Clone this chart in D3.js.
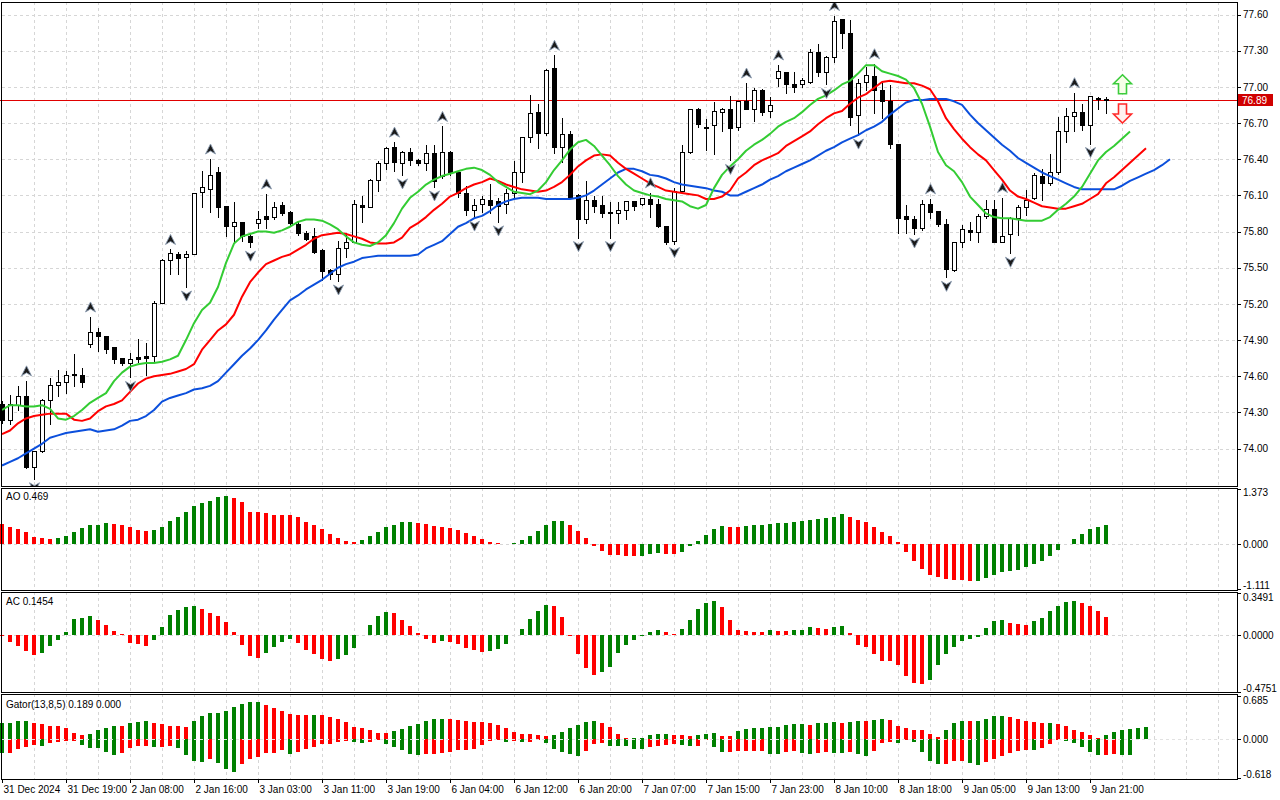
<!DOCTYPE html>
<html>
<head>
<meta charset="utf-8">
<script src="https://cdn.jsdelivr.net/npm/d3@7"></script>
<style>
  html, body { margin: 0; padding: 0; background: #fff; }
  svg { display: block; font-family: "Liberation Sans", Arial, sans-serif; }
  .grid line { stroke: #d6d6d6; stroke-dasharray: 3,3; shape-rendering: crispEdges; }
  .axis text { font-size: 10px; fill: #000; }
  .axis line { stroke: #000; shape-rendering: crispEdges; }
  .axis path { display: none; }
  .frame { fill: none; stroke: #000; shape-rendering: crispEdges; }
  .label { font-size: 10px; fill: #000; }
</style>
</head>
<body>
<svg id="chart" width="1280" height="800"></svg>
<script>
// H1 bars, 31 Dec 2024 .. 9 Jan 2025
const open = [74.37,74.24,74.36,74.44,73.85,73.98,74.40,74.53,74.55,74.61,
  74.61,74.87,74.97,74.93,74.84,74.75,74.71,74.76,74.77,74.77,
  75.21,75.56,75.61,75.59,75.61,76.13,76.15,76.29,76.01,75.85,
  75.88,75.76,75.87,75.93,75.92,76.02,75.96,75.86,75.79,75.76,
  75.65,75.48,75.45,75.66,75.71,76.02,76.00,76.23,76.37,76.50,
  76.37,76.46,76.39,76.37,76.45,76.26,76.46,76.29,76.12,75.98,
  76.03,76.06,76.05,76.03,76.12,76.29,76.58,76.79,76.62,77.16,
  76.50,76.61,76.10,75.90,76.06,76.02,75.96,75.95,75.98,76.05,
  76.03,76.07,76.03,75.85,75.72,76.14,76.46,76.82,76.67,76.68,
  76.79,76.82,76.67,76.88,76.82,76.97,76.80,77.07,77.12,77.02,
  77.02,77.04,77.29,77.12,77.25,77.56,77.45,76.77,77.04,77.09,
  76.97,76.88,76.53,75.93,75.90,75.83,76.03,75.97,75.86,75.48,
  75.71,75.81,75.80,75.93,75.99,75.71,75.78,75.91,76.00,76.08,
  76.26,76.20,76.29,76.63,76.76,76.79,76.68,76.91,76.90];
const high = [74.40,74.45,74.53,74.57,73.98,74.42,74.59,74.66,74.65,74.79,
  74.68,75.10,75.01,74.94,74.84,74.76,74.80,74.92,74.88,75.23,
  75.58,75.66,75.64,75.65,76.13,76.31,76.41,76.34,76.01,76.05,
  75.88,75.79,75.98,76.12,76.05,76.05,75.98,75.89,75.81,75.84,
  75.66,75.50,75.73,75.80,76.07,76.10,76.24,76.39,76.51,76.55,
  76.48,76.50,76.41,76.53,76.53,76.68,76.48,76.31,76.19,76.08,
  76.10,76.20,76.09,76.16,76.39,76.58,76.94,76.87,77.16,77.27,
  76.75,76.64,76.12,76.23,76.10,76.10,76.05,76.05,76.06,76.06,
  76.09,76.13,76.08,75.85,76.17,76.53,76.82,76.83,76.74,76.88,
  76.83,76.93,76.89,77.04,77.00,76.99,76.92,77.19,77.13,77.13,
  77.08,77.32,77.36,77.26,77.60,77.57,77.56,77.07,77.17,77.20,
  77.04,77.02,76.53,76.03,75.94,76.07,76.08,75.98,75.91,75.71,
  75.86,75.89,75.95,76.07,76.07,76.09,75.93,76.03,76.15,76.29,
  76.33,76.45,76.76,76.83,76.96,76.87,76.92,76.92,76.92];
const low = [74.21,74.20,74.32,73.84,73.75,73.97,74.20,74.44,74.46,74.52,
  74.51,74.84,74.81,74.79,74.71,74.69,74.59,74.72,74.61,74.73,
  75.21,75.45,75.45,75.34,75.61,76.00,75.96,75.92,75.76,75.71,
  75.72,75.67,75.83,75.83,75.90,75.94,75.85,75.77,75.73,75.62,
  75.40,75.41,75.39,75.59,75.71,75.88,76.00,76.14,76.32,76.30,
  76.27,76.35,76.35,76.31,76.17,76.24,76.27,76.09,75.94,75.92,
  75.96,75.95,75.88,75.95,76.09,76.21,76.54,76.49,76.60,76.45,
  76.38,76.09,75.75,75.87,75.96,75.92,75.75,75.87,75.90,75.98,
  76.02,75.92,75.84,75.70,75.70,76.14,76.45,76.67,76.48,76.44,
  76.63,76.39,76.64,76.82,76.72,76.77,76.75,77.01,76.95,76.96,
  77.00,77.03,77.09,77.02,77.21,77.32,76.68,76.60,76.97,76.78,
  76.74,76.49,75.79,75.79,75.78,75.81,75.91,75.85,75.42,75.47,
  75.67,75.73,75.71,75.91,75.71,75.71,75.62,75.77,75.94,76.07,
  76.06,76.19,76.28,76.54,76.63,76.64,76.53,76.82,76.78];
const close = [74.24,74.37,74.44,73.85,73.98,74.40,74.53,74.55,74.61,74.62,
  74.55,74.97,74.93,74.83,74.74,74.71,74.74,74.74,74.75,75.21,
  75.56,75.62,75.58,75.61,76.12,76.17,76.27,76.00,75.85,75.88,
  75.76,75.71,75.90,75.90,76.00,75.95,75.87,75.79,75.74,75.63,
  75.47,75.45,75.66,75.71,76.03,76.00,76.23,76.37,76.49,76.38,
  76.46,76.39,76.37,76.45,76.22,76.46,76.29,76.12,75.98,76.02,
  76.07,76.02,76.01,76.12,76.29,76.58,76.78,76.62,77.14,76.50,
  76.61,76.09,75.90,76.06,76.01,75.95,75.95,75.98,76.05,76.01,
  76.08,76.03,75.85,75.71,76.14,76.46,76.82,76.69,76.66,76.80,
  76.82,76.66,76.88,76.82,76.97,76.79,76.85,77.13,77.02,77.00,
  77.06,77.29,77.12,77.25,77.55,77.45,76.75,77.03,77.10,76.97,
  76.88,76.53,75.91,75.90,75.83,76.03,75.96,75.86,75.49,75.71,
  75.82,75.80,75.93,75.99,75.71,75.76,75.91,76.00,76.06,76.27,
  76.20,76.29,76.63,76.76,76.79,76.68,76.92,76.90,76.89];

// fractal bars
const fractalUp = [3,11,21,26,33,49,55,69,81,93,97,104,109,116,125,134];
const fractalDown = [4,16,23,31,42,50,54,59,62,72,76,84,91,103,107,114,118,126,136];

// alligator lines (already shifted forward, one value per bar slot)
const lips = [74.32,74.36,74.36,74.35,74.35,74.36,74.33,74.25,74.24,74.27,
  74.32,74.38,74.42,74.46,74.56,74.63,74.68,74.70,74.71,74.71,
  74.72,74.74,74.77,74.90,75.04,75.15,75.21,75.34,75.54,75.70,
  75.76,75.78,75.80,75.80,75.79,75.81,75.84,75.88,75.90,75.90,
  75.89,75.86,75.82,75.76,75.71,75.69,75.68,75.71,75.77,75.87,
  75.99,76.08,76.13,76.19,76.23,76.26,76.28,76.30,76.32,76.33,
  76.31,76.27,76.21,76.17,76.13,76.12,76.11,76.14,76.21,76.31,
  76.39,76.48,76.54,76.56,76.51,76.43,76.35,76.26,76.19,76.14,
  76.12,76.10,76.09,76.07,76.06,76.05,76.01,75.99,76.02,76.16,
  76.27,76.34,76.40,76.47,76.52,76.56,76.61,76.67,76.71,76.74,
  76.79,76.85,76.90,76.93,76.97,77.02,77.05,77.11,77.18,77.18,
  77.13,77.11,77.09,77.06,76.99,76.86,76.67,76.46,76.35,76.30,
  76.21,76.09,76.02,75.95,75.92,75.91,75.91,75.90,75.89,75.89,
  75.89,75.92,75.98,76.03,76.09,76.17,76.28,76.39,76.46,76.51,
  76.57,76.63];
const teeth = [74.12,74.15,74.21,74.25,74.27,74.28,74.29,74.29,74.29,74.24,
  74.23,74.25,74.31,74.35,74.37,74.40,74.47,74.54,74.58,74.60,
  74.61,74.62,74.64,74.66,74.70,74.82,74.90,74.98,75.03,75.11,
  75.26,75.38,75.46,75.53,75.56,75.59,75.61,75.65,75.69,75.74,
  75.77,75.78,75.79,75.78,75.76,75.74,75.71,75.70,75.70,75.71,
  75.75,75.83,75.87,75.92,75.98,76.03,76.09,76.12,76.16,76.19,
  76.21,76.24,76.22,76.19,76.17,76.15,76.14,76.13,76.14,76.17,
  76.21,76.27,76.34,76.39,76.43,76.44,76.43,76.37,76.32,76.28,
  76.24,76.20,76.17,76.14,76.13,76.12,76.11,76.10,76.07,76.07,
  76.09,76.14,76.24,76.29,76.35,76.39,76.42,76.45,76.51,76.55,
  76.59,76.63,76.69,76.74,76.78,76.80,76.86,76.91,76.94,76.99,
  77.04,77.05,77.04,77.03,77.03,77.01,76.98,76.88,76.74,76.65,
  76.57,76.50,76.44,76.39,76.31,76.23,76.14,76.09,76.07,76.04,
  76.01,76.00,75.99,75.99,76.01,76.03,76.07,76.11,76.20,76.25,
  76.31,76.37,76.43,76.49];
const jaw = [73.86,73.89,73.92,73.96,74.00,74.04,74.09,74.11,74.13,74.14,
  74.15,74.16,74.14,74.15,74.16,74.19,74.23,74.24,74.27,74.32,
  74.39,74.42,74.44,74.46,74.49,74.50,74.52,74.56,74.63,74.70,
  74.77,74.83,74.90,74.98,75.07,75.15,75.23,75.27,75.32,75.36,
  75.40,75.45,75.50,75.53,75.55,75.58,75.59,75.60,75.60,75.60,
  75.60,75.60,75.61,75.66,75.69,75.72,75.78,75.84,75.87,75.91,
  75.93,75.97,76.02,76.05,76.07,76.08,76.08,76.08,76.07,76.07,
  76.07,76.07,76.08,76.10,76.14,76.19,76.24,76.29,76.32,76.32,
  76.30,76.27,76.26,76.24,76.21,76.19,76.18,76.17,76.16,76.14,
  76.13,76.10,76.10,76.13,76.16,76.19,76.23,76.26,76.30,76.33,
  76.36,76.39,76.43,76.47,76.50,76.54,76.57,76.60,76.64,76.67,
  76.71,76.77,76.82,76.87,76.89,76.89,76.90,76.90,76.90,76.88,
  76.85,76.77,76.70,76.64,76.58,76.52,76.47,76.41,76.37,76.33,
  76.29,76.26,76.23,76.20,76.17,76.15,76.15,76.15,76.15,76.15,
  76.18,76.22,76.25,76.28,76.31,76.35,76.40];

// Awesome Oscillator
const ao = [0.50,0.43,0.38,0.31,0.18,0.14,0.135,0.15,0.19,0.31,
  0.39,0.46,0.48,0.51,0.50,0.48,0.41,0.35,0.33,0.34,
  0.43,0.58,0.68,0.78,0.93,1.01,1.07,1.16,1.19,1.13,
  1.03,0.80,0.78,0.76,0.73,0.72,0.71,0.66,0.55,0.46,
  0.36,0.24,0.14,0.08,0.06,0.11,0.21,0.31,0.43,0.48,
  0.54,0.55,0.52,0.49,0.44,0.42,0.40,0.35,0.28,0.20,
  0.13,0.05,0.02,0.01,0.03,0.10,0.20,0.32,0.47,0.57,
  0.58,0.47,0.32,0.15,-0.04,-0.17,-0.27,-0.28,-0.29,-0.30,
  -0.29,-0.24,-0.23,-0.24,-0.25,-0.19,-0.06,0.07,0.22,0.37,
  0.44,0.42,0.41,0.44,0.47,0.48,0.49,0.52,0.53,0.54,
  0.58,0.60,0.63,0.64,0.68,0.74,0.68,0.59,0.54,0.43,
  0.29,0.19,0.04,-0.20,-0.43,-0.62,-0.77,-0.82,-0.87,-0.89,
  -0.90,-0.91,-0.905,-0.84,-0.76,-0.70,-0.67,-0.63,-0.57,-0.50,
  -0.43,-0.30,-0.15,0.01,0.12,0.24,0.37,0.43,0.469];

// Accelerator Oscillator
const ac = [-0.01,-0.056,-0.09,-0.13,-0.17,-0.15,-0.09,-0.04,0.025,0.13,
  0.14,0.16,0.126,0.084,0.034,0.005,-0.064,-0.078,-0.09,-0.04,
  0.067,0.168,0.21,0.23,0.238,0.219,0.185,0.16,0.11,0.025,
  -0.081,-0.174,-0.19,-0.149,-0.098,-0.056,-0.03,-0.064,-0.123,-0.157,
  -0.2,-0.216,-0.2,-0.165,-0.107,0.002,0.084,0.16,0.193,0.185,
  0.126,0.076,0.02,-0.031,-0.064,-0.048,-0.059,-0.073,-0.109,-0.126,
  -0.14,-0.132,-0.118,-0.073,0.003,0.05,0.135,0.196,0.247,0.245,
  0.151,-0.006,-0.157,-0.275,-0.334,-0.308,-0.266,-0.149,-0.081,-0.039,
  -0.006,0.025,0.042,0.025,0.008,0.05,0.126,0.219,0.269,0.286,
  0.235,0.126,0.042,0.034,0.025,0.024,0.042,0.034,0.033,0.042,
  0.043,0.067,0.059,0.05,0.067,0.076,0.017,-0.084,-0.101,-0.16,
  -0.219,-0.22,-0.252,-0.345,-0.401,-0.412,-0.378,-0.252,-0.16,-0.101,
  -0.05,-0.034,-0.017,0.059,0.118,0.126,0.101,0.093,0.084,0.118,
  0.143,0.202,0.244,0.278,0.279,0.269,0.244,0.202,0.1454];

// Gator oscillator, upper and lower histograms
const gatorUp = [0.25,0.254,0.29,0.291,0.254,0.238,0.207,0.206,0.175,0.095,
  0.064,0.08,0.143,0.175,0.207,0.206,0.254,0.27,0.286,0.254,
  0.238,0.207,0.206,0.19,0.286,0.365,0.413,0.414,0.445,0.508,
  0.556,0.588,0.593,0.535,0.493,0.445,0.397,0.381,0.380,0.382,
  0.381,0.35,0.318,0.27,0.19,0.175,0.143,0.095,0.094,0.127,
  0.159,0.207,0.238,0.286,0.318,0.319,0.317,0.302,0.286,0.27,
  0.269,0.254,0.222,0.175,0.111,0.079,0.078,0.064,0.048,0.064,
  0.111,0.175,0.222,0.27,0.286,0.254,0.191,0.079,0.016,0.017,
  0.018,0.064,0.079,0.080,0.064,0.063,0.048,0.064,0.079,0.095,
  0.048,0.047,0.127,0.159,0.175,0.176,0.191,0.192,0.222,0.238,
  0.239,0.222,0.254,0.255,0.27,0.254,0.27,0.286,0.285,0.302,
  0.318,0.302,0.207,0.175,0.143,0.142,0.079,0.032,0.143,0.254,
  0.286,0.285,0.287,0.318,0.365,0.366,0.35,0.318,0.286,0.27,
  0.254,0.255,0.238,0.207,0.143,0.111,0.064,0.016,0.064,0.111,
  0.143,0.159,0.175,0.189];
const gatorDown = [-0.217,-0.216,-0.164,-0.122,-0.090,-0.106,-0.064,-0.042,-0.026,-0.025,
  -0.090,-0.138,-0.139,-0.201,-0.249,-0.217,-0.138,-0.106,-0.105,-0.122,
  -0.121,-0.106,-0.138,-0.249,-0.344,-0.360,-0.323,-0.376,-0.482,-0.519,
  -0.397,-0.323,-0.281,-0.217,-0.216,-0.175,-0.233,-0.201,-0.164,-0.122,
  -0.080,-0.074,-0.048,-0.037,-0.042,-0.058,-0.042,-0.010,-0.074,-0.122,
  -0.169,-0.233,-0.249,-0.233,-0.232,-0.217,-0.201,-0.169,-0.168,-0.154,
  -0.090,-0.026,-0.011,-0.042,-0.026,-0.042,-0.041,-0.011,-0.058,-0.154,
  -0.201,-0.233,-0.265,-0.185,-0.074,-0.058,-0.106,-0.107,-0.108,-0.154,
  -0.155,-0.122,-0.106,-0.090,-0.074,-0.090,-0.106,-0.105,-0.016,-0.122,
  -0.201,-0.200,-0.185,-0.184,-0.183,-0.182,-0.233,-0.234,-0.201,-0.185,
  -0.217,-0.233,-0.217,-0.201,-0.217,-0.218,-0.201,-0.233,-0.265,-0.185,
  -0.058,-0.042,-0.058,-0.011,-0.042,-0.201,-0.344,-0.392,-0.391,-0.344,
  -0.343,-0.376,-0.408,-0.360,-0.312,-0.265,-0.217,-0.185,-0.169,-0.170,
  -0.138,-0.074,-0.011,-0.026,-0.058,-0.122,-0.201,-0.249,-0.248,-0.233,
  -0.249,-0.250,0,0];

// axis labels
const priceTicks = [77.60,77.30,77.00,76.70,76.40,76.10,75.80,75.50,75.20,74.90,74.60,74.30,74.00];
const aoTicks = [1.373, 0, -1.111];
const acTicks = [0.3491, 0, -0.4751];
const gatorTicks = [0.685, 0, -0.618];
const timeLabels = ["31 Dec 2024","31 Dec 19:00","2 Jan 08:00","2 Jan 16:00","3 Jan 03:00",
  "3 Jan 11:00","3 Jan 19:00","6 Jan 04:00","6 Jan 12:00","6 Jan 20:00","7 Jan 07:00",
  "7 Jan 15:00","7 Jan 23:00","8 Jan 10:00","8 Jan 18:00","9 Jan 05:00","9 Jan 13:00","9 Jan 21:00"];
const timeLabelBars = [0,8,16,24,32,40,48,56,64,72,80,88,96,104,112,120,128,136];

// signal arrows at the right end (bar slot, tip price)
const signalBars = [140, 140];
const signalPrices = [77.10, 76.70];

const GREEN = "#008000", RED = "#ff0000";
const svg = d3.select("#chart");
const right = 1237;

const panels = {
  main:  { top: 2,   bottom: 486 },
  ao:    { top: 488, bottom: 590 },
  ac:    { top: 592, bottom: 692 },
  gator: { top: 694, bottom: 779 }
};

// 8 px per bar
const x = d3.scaleLinear().domain([0, 138]).range([2, 1106]);
const yMain = d3.scaleLinear().domain([74.00, 77.60]).range([448.6, 14.5]);
const yAO = d3.scaleLinear().domain([-1.111, 1.373]).range([589, 488.5]);
const yAC = d3.scaleLinear().domain([-0.4751, 0.3491]).range([692, 593]);
const yGator = d3.scaleLinear().domain([-0.618, 0.685]).range([778, 696]);

const defs = svg.append("defs");
Object.entries(panels).forEach(([k, p]) => {
  defs.append("clipPath").attr("id", "clip-" + k)
    .append("rect").attr("x", 0).attr("y", p.top).attr("width", right).attr("height", p.bottom - p.top);
});

// grid
const grid = svg.append("g").attr("class", "grid");
const gridBars = d3.range(4, 154, 4);
Object.values(panels).forEach(p => {
  grid.selectAll(null).data(gridBars).join("line")
    .attr("x1", d => x(d)).attr("x2", d => x(d))
    .attr("y1", p.top).attr("y2", p.bottom);
});
grid.selectAll(null).data(priceTicks).join("line")
  .attr("x1", 2).attr("x2", right)
  .attr("y1", d => Math.round(yMain(d))).attr("y2", d => Math.round(yMain(d)));
[[yAO, "ao"], [yAC, "ac"]].forEach(([y]) => {
  grid.append("line").attr("x1", 2).attr("x2", right)
    .attr("y1", Math.round(y(0))).attr("y2", Math.round(y(0)));
});

// ---------- main panel ----------
const gMain = svg.append("g").attr("clip-path", "url(#clip-main)");

const lastClose = close[close.length - 1];
gMain.append("line")
  .attr("x1", 0).attr("x2", right)
  .attr("y1", Math.round(yMain(lastClose)) + 0.5).attr("y2", Math.round(yMain(lastClose)) + 0.5)
  .attr("stroke", "#e00000").attr("stroke-width", 1);

const candles = open.map((o, i) => ({ i, o, h: high[i], l: low[i], c: close[i] }));
const px = v => Math.round(yMain(v)) + 0.5;

gMain.append("g").selectAll("line").data(candles).join("line")
  .attr("x1", d => x(d.i) + 0.5).attr("x2", d => x(d.i) + 0.5)
  .attr("y1", d => px(d.h)).attr("y2", d => px(d.l))
  .attr("stroke", "#000").attr("shape-rendering", "crispEdges");

gMain.append("g").selectAll("rect").data(candles.filter(d => px(d.o) !== px(d.c))).join("rect")
  .attr("x", d => x(d.i) - 1.5).attr("width", 4)
  .attr("y", d => px(Math.max(d.o, d.c)))
  .attr("height", d => Math.abs(px(d.o) - px(d.c)))
  .attr("fill", d => d.c >= d.o ? "#fff" : "#000")
  .attr("stroke", "#000").attr("shape-rendering", "crispEdges");

gMain.append("g").selectAll("line").data(candles.filter(d => px(d.o) === px(d.c))).join("line")
  .attr("x1", d => x(d.i) - 2).attr("x2", d => x(d.i) + 3)
  .attr("y1", d => px(d.c)).attr("y2", d => px(d.c))
  .attr("stroke", "#000").attr("shape-rendering", "crispEdges");

// alligator
const lineGen = d3.line().x((d, i) => x(i)).y(d => yMain(d));
[[jaw, "#0b4fdc"], [teeth, "#ff0000"], [lips, "#33cc33"]].forEach(([arr, col]) => {
  gMain.append("path").datum(arr).attr("d", lineGen)
    .attr("fill", "none").attr("stroke", col).attr("stroke-width", 2)
    .attr("stroke-linejoin", "round");
});

// fractals
const upShape = "M0,-5 L5,5 L0,2 L-5,5 Z";
const downShape = "M0,5 L5,-5 L0,-2 L-5,-5 Z";
gMain.append("g").selectAll("path").data(fractalUp).join("path")
  .attr("d", upShape)
  .attr("transform", d => `translate(${x(d) + 0.5},${yMain(high[d]) - 9})`)
  .attr("fill", "#1a1a1a").attr("stroke", "#8a9bb0").attr("stroke-width", 0.9);
gMain.append("g").selectAll("path").data(fractalDown).join("path")
  .attr("d", downShape)
  .attr("transform", d => `translate(${x(d) + 0.5},${yMain(low[d]) + 9})`)
  .attr("fill", "#1a1a1a").attr("stroke", "#8a9bb0").attr("stroke-width", 0.9);

// signal arrows
const arrowUp = "M0,0 L9,9 L4,9 L4,19 L-4,19 L-4,9 L-9,9 Z";
const arrowDown = "M0,0 L9,-9 L4,-9 L4,-19 L-4,-19 L-4,-9 L-9,-9 Z";
gMain.append("path").attr("d", arrowUp)
  .attr("transform", `translate(${x(signalBars[0]) + 0.5},${yMain(signalPrices[0])})`)
  .attr("fill", "#f6ffe8").attr("stroke", "#3ccc3c").attr("stroke-width", 1.6);
gMain.append("path").attr("d", arrowDown)
  .attr("transform", `translate(${x(signalBars[1]) + 0.5},${yMain(signalPrices[1])})`)
  .attr("fill", "#fff2f0").attr("stroke", "#ff2a2a").attr("stroke-width", 1.6);

// ---------- histograms ----------
function histogram(name, data, y, colorOf) {
  const g = svg.append("g").attr("clip-path", `url(#clip-${name})`);
  const z = Math.round(y(0));
  g.selectAll("rect").data(data).join("rect")
    .attr("x", (d, i) => x(i) - 2).attr("width", 4)
    .attr("y", d => Math.min(Math.round(y(d)), z))
    .attr("height", d => Math.abs(Math.round(y(d)) - z))
    .attr("fill", colorOf)
    .attr("shape-rendering", "crispEdges");
  return g;
}
const risingColor = arr => (d, i) => (i > 0 && d > arr[i - 1]) ? GREEN : RED;
histogram("ao", ao, yAO, risingColor(ao));
histogram("ac", ac, yAC, risingColor(ac));
const gGator = histogram("gator", gatorUp, yGator,
  (d, i) => (i === 0 || d > gatorUp[i - 1]) ? GREEN : RED);
const gz = Math.round(yGator(0));
gGator.append("g").selectAll("rect").data(gatorDown).join("rect")
  .attr("x", (d, i) => x(i) - 2).attr("width", 4)
  .attr("y", gz)
  .attr("height", d => Math.round(yGator(d)) - gz)
  .attr("fill", (d, i) => (i === 0 || Math.abs(d) > Math.abs(gatorDown[i - 1])) ? GREEN : RED)
  .attr("shape-rendering", "crispEdges");
svg.append("line").attr("x1", 2).attr("x2", right).attr("y1", gz + 0.5).attr("y2", gz + 0.5)
  .attr("stroke", "#e2e2e2").attr("stroke-dasharray", "3,3");

// ---------- frames ----------
Object.values(panels).forEach(p => {
  svg.append("rect").attr("class", "frame")
    .attr("x", 1).attr("y", p.top).attr("width", right - 1).attr("height", p.bottom - p.top);
});

// ---------- axes ----------
svg.append("g").attr("class", "axis")
  .attr("transform", `translate(${right},0)`)
  .call(d3.axisRight(yMain).tickValues(priceTicks).tickFormat(d => d.toFixed(2)).tickSize(4).tickPadding(2));

function subAxis(y, ticks, dec) {
  const g = svg.append("g").attr("class", "axis")
    .attr("transform", `translate(${right},0)`)
    .call(d3.axisRight(y).tickValues(ticks).tickFormat(d => d.toFixed(dec)).tickSize(4).tickPadding(2));
  g.selectAll("text").attr("transform", (d, i) => i === 0 ? "translate(0,4)" : i === ticks.length - 1 ? "translate(0,-4)" : null);
}
subAxis(yAO, aoTicks, 3);
subAxis(yAC, acTicks, 4);
subAxis(yGator, gatorTicks, 3);

const tAxis = svg.append("g").attr("class", "axis")
  .attr("transform", `translate(0,${panels.gator.bottom})`)
  .call(d3.axisBottom(x).tickValues(timeLabelBars).tickFormat((d, i) => timeLabels[i]).tickSize(4).tickPadding(3));
tAxis.selectAll("text").attr("text-anchor", "start").attr("x", 1);

// current price tag
const tagY = Math.round(yMain(lastClose));
svg.append("rect").attr("x", right + 1).attr("y", tagY - 6).attr("width", 35).attr("height", 12)
  .attr("fill", "#d00000");
svg.append("text").attr("class", "label").attr("x", right + 5).attr("y", tagY + 4)
  .attr("fill", "#fff").style("fill", "#fff").text(lastClose.toFixed(2));

// indicator captions
svg.append("text").attr("class", "label").attr("x", 6).attr("y", 500)
  .text(`AO ${ao[ao.length - 1].toFixed(3)}`);
svg.append("text").attr("class", "label").attr("x", 6).attr("y", 605)
  .text(`AC ${ac[ac.length - 1].toFixed(4)}`);
svg.append("text").attr("class", "label").attr("x", 6).attr("y", 708)
  .text(`Gator(13,8,5) ${gatorUp[gatorUp.length - 1].toFixed(3)} ${Math.abs(gatorDown[gatorDown.length - 1]).toFixed(3)}`);
</script>
</body>
</html>
